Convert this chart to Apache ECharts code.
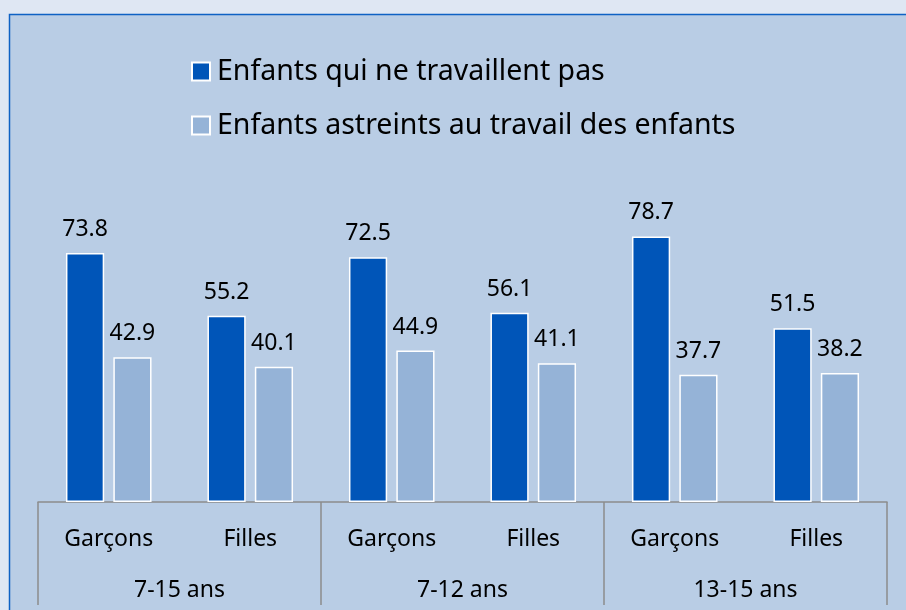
<!DOCTYPE html>
<html>
<head>
<meta charset="utf-8">
<script src="https://cdn.jsdelivr.net/npm/echarts@6/dist/echarts.min.js"></script>
<style>
  html, body { margin: 0; padding: 0; background: #dfe7f3; }
  #chart { width: 906px; height: 610px; }
</style>
</head>
<body>
<div id="chart"></div>
<script>
const sousGroupes = ["Garçons", "Filles", "Garçons", "Filles", "Garçons", "Filles"];
const groupesAge = ["7-15 ans", "7-12 ans", "13-15 ans"];
const nomsSeries = ["Enfants qui ne travaillent pas", "Enfants astreints au travail des enfants"];
const pasTravail = [73.8, 55.2, 72.5, 56.1, 78.7, 51.5];
const travail = [42.9, 40.1, 44.9, 41.1, 37.7, 38.2];

const police = "Noto Sans";
const chart = echarts.init(document.getElementById("chart"));

const etiquette = {
  show: true,
  position: "top",
  distance: 12,
  fontSize: 23,
  color: "#000",
  formatter: (p) => p.value.toFixed(1),
};

const options = {
  backgroundColor: "#dfe7f3",
  textStyle: { fontFamily: police },
  graphic: [
    {
      type: "rect",
      z: -1,
      shape: { x: 9.5, y: 14.5, width: 1000, height: 1000 },
      style: { fill: "#b9cde5", stroke: "#0f62c4", lineWidth: 1.5 },
    },
  ],
  legend: {
    orient: "vertical",
    left: 186,
    top: 52,
    itemGap: 25,
    itemWidth: 18,
    itemHeight: 18,
    icon: "rect",
    textStyle: { fontSize: 28.5, color: "#000", fontFamily: police, padding: [0, 0, 0, 2] },
    data: nomsSeries,
  },
  grid: { left: 38, right: 19, top: 232, bottom: 108 },
  xAxis: [
    {
      type: "category",
      data: sousGroupes,
      axisLine: { lineStyle: { color: "#8c8c8c", width: 1.5 } },
      axisTick: { show: false },
      axisLabel: { fontSize: 23, color: "#000", margin: 26, interval: 0 },
    },
    {
      type: "category",
      data: groupesAge,
      position: "bottom",
      axisLine: { show: false },
      axisTick: { show: true, length: 103, interval: 0, lineStyle: { color: "#8c8c8c", width: 1.5 } },
      axisLabel: { fontSize: 23, color: "#000", margin: 77, interval: 0 },
    },
  ],
  yAxis: { type: "value", min: 0, max: 80, show: false, splitLine: { show: false } },
  series: [
    {
      name: nomsSeries[0],
      type: "bar",
      data: pasTravail,
      barWidth: "27%",
      barGap: "24%",
      itemStyle: { color: "#0055b8", borderColor: "#ffffff", borderWidth: 1.5 },
      label: etiquette,
    },
    {
      name: nomsSeries[1],
      type: "bar",
      data: travail,
      barWidth: "27%",
      itemStyle: { color: "#95b3d7", borderColor: "#ffffff", borderWidth: 1.5 },
      label: etiquette,
    },
  ],
};

chart.setOption(options);
</script>
</body>
</html>
